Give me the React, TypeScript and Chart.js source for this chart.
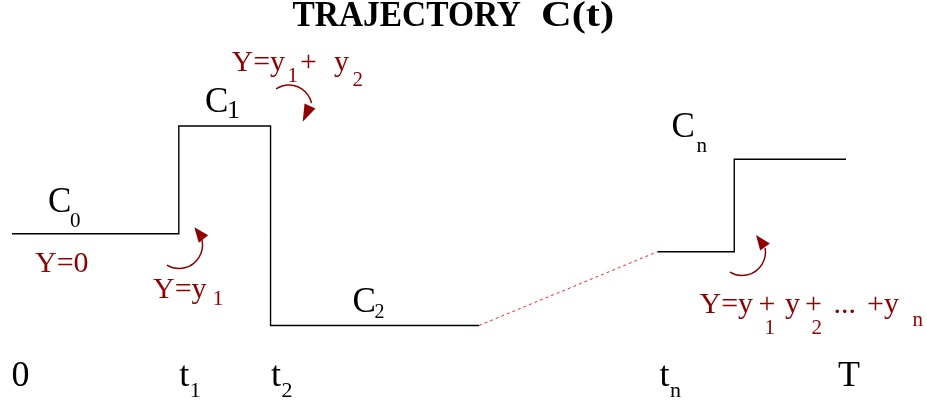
import React, { useEffect, useRef } from "react";
import { Chart, registerables } from "chart.js";
Chart.register(...registerables);

// ---- data ----
const earlyTimes = [0, 20, 31, 56]; // 0, t1, t2, end of C2 stretch
const earlyLevels = [46, 100, 0, 0]; // C0, C1, C2
const gapTimes = [56, 77.4];
const gapLevels = [0, 37];
const lateTimes = [77.4, 86.6, 100]; // tn, jump, T
const lateLevels = [37, 83.3, 83.3]; // level before Cn, Cn

const tickValues = [0, 20, 31, 77.4, 100];
const tickMain = ["0", "t", "t", "t", "T"];
const tickSub = ["", "1", "2", "n", ""];

const titleText = ["TRAJECTORY", "C(t)"];

const SERIF = '"Liberation Serif", "DejaVu Serif", serif';
const DARKRED = "#8f0000";

type Piece = { t: string; x: number; y: number; size: number; color: string; bold?: boolean };

const textPieces: Piece[] = [
  // level labels
  { t: "C", x: 48, y: 211.5, size: 35, color: "#000" },
  { t: "0", x: 70, y: 226.5, size: 21, color: "#000" },
  { t: "C", x: 205, y: 111.7, size: 35, color: "#000" },
  { t: "1", x: 227, y: 118, size: 26, color: "#000" },
  { t: "C", x: 352.5, y: 311.7, size: 35, color: "#000" },
  { t: "2", x: 374.5, y: 318, size: 20, color: "#000" },
  { t: "C", x: 671.5, y: 136.7, size: 35, color: "#000" },
  { t: "n", x: 696.5, y: 151.7, size: 21, color: "#000" },
  // red annotations
  { t: "Y=y", x: 231.5, y: 70.7, size: 30, color: DARKRED },
  { t: "1", x: 287.5, y: 81.7, size: 21, color: DARKRED },
  { t: "+", x: 300, y: 70.7, size: 30, color: DARKRED },
  { t: "y", x: 334, y: 70.7, size: 30, color: DARKRED },
  { t: "2", x: 352.5, y: 85.7, size: 21, color: DARKRED },
  { t: "Y=0", x: 35, y: 271.7, size: 30, color: DARKRED },
  { t: "Y=y", x: 153, y: 298, size: 30, color: DARKRED },
  { t: "1", x: 212.5, y: 305, size: 22, color: DARKRED },
  { t: "Y=y", x: 699.5, y: 313.3, size: 30, color: DARKRED },
  { t: "+", x: 758.5, y: 313.3, size: 30, color: DARKRED },
  { t: "1", x: 764.5, y: 334, size: 21, color: DARKRED },
  { t: "y", x: 785, y: 313.3, size: 30, color: DARKRED },
  { t: "+", x: 805, y: 313.3, size: 30, color: DARKRED },
  { t: "2", x: 811.5, y: 334, size: 21, color: DARKRED },
  { t: "...", x: 833.5, y: 313.3, size: 30, color: DARKRED },
  { t: "+y", x: 867, y: 313.3, size: 30, color: DARKRED },
  { t: "n", x: 912.5, y: 325.7, size: 21, color: DARKRED },
];

type Arrow = { cx: number; cy: number; r: number; a0: number; a1: number; ccw: boolean; tip: [number, number]; base: [number, number] };
const arrows: Arrow[] = [
  { cx: 289, cy: 108, r: 23, a0: -124, a1: -12, ccw: false, tip: [302.7, 121.7], base: [310, 106] },
  { cx: 179, cy: 245, r: 23.5, a0: 121, a1: -12, ccw: true, tip: [194.3, 227.3], base: [203.5, 239] },
  { cx: 742, cy: 252, r: 23.5, a0: 121, a1: -10, ccw: true, tip: [756, 235], base: [765, 247] },
];

function fitText(ctx: CanvasRenderingContext2D, t: string, x0: number, x1: number, y: number) {
  const w = ctx.measureText(t).width;
  const sx = (x1 - x0) / w;
  ctx.save();
  ctx.translate(x0, y);
  ctx.scale(sx, 1);
  ctx.fillText(t, 0, 0);
  ctx.restore();
}

const overlayPlugin = {
  id: "overlay",
  afterDraw(chart: any) {
    const ctx: CanvasRenderingContext2D = chart.ctx;
    const xs = chart.scales.x;
    ctx.save();
    ctx.textAlign = "left";
    ctx.textBaseline = "alphabetic";
    // title
    ctx.fillStyle = "#000";
    ctx.font = `bold 35px ${SERIF}`;
    fitText(ctx, titleText[0], 292.5, 521, 26);
    fitText(ctx, titleText[1], 541, 614, 26);
    // text pieces
    for (const p of textPieces) {
      ctx.fillStyle = p.color;
      ctx.font = `${p.bold ? "bold " : ""}${p.size}px ${SERIF}`;
      ctx.fillText(p.t, p.x, p.y);
    }
    // tick labels along time axis
    const offs = [-0.5, 0.5, 0.5, 2, -8];
    tickValues.forEach((v, i) => {
      const px = xs.getPixelForValue(v) + offs[i];
      ctx.fillStyle = "#000";
      ctx.font = `36px ${SERIF}`;
      ctx.fillText(tickMain[i], px, 385.5);
      if (tickSub[i]) {
        const w = ctx.measureText(tickMain[i]).width;
        ctx.font = `22px ${SERIF}`;
        ctx.fillText(tickSub[i], px + w + 0.5, 396.7);
      }
    });
    // arrows
    ctx.strokeStyle = DARKRED;
    ctx.fillStyle = DARKRED;
    ctx.lineWidth = 1.5;
    for (const a of arrows) {
      ctx.beginPath();
      ctx.arc(a.cx, a.cy, a.r, (a.a0 * Math.PI) / 180, (a.a1 * Math.PI) / 180, a.ccw);
      ctx.stroke();
      const dx = a.tip[0] - a.base[0];
      const dy = a.tip[1] - a.base[1];
      const len = Math.hypot(dx, dy);
      const nx = -dy / len, ny = dx / len;
      const hw = 6;
      ctx.beginPath();
      ctx.moveTo(a.tip[0], a.tip[1]);
      ctx.lineTo(a.base[0] + nx * hw, a.base[1] + ny * hw);
      ctx.lineTo(a.base[0] - nx * hw, a.base[1] - ny * hw);
      ctx.closePath();
      ctx.fill();
    }
    ctx.restore();
  },
};

export default function App() {
  const ref = useRef<HTMLCanvasElement | null>(null);
  useEffect(() => {
    if (!ref.current) return;
    const toPts = (xs: number[], ys: number[]) => xs.map((x, i) => ({ x, y: ys[i] }));
    const chart = new Chart(ref.current, {
      type: "line",
      data: {
        datasets: [
          {
            data: toPts(earlyTimes, earlyLevels),
            stepped: true,
            borderColor: "#000",
            borderWidth: 1.4,
            pointRadius: 0,
            fill: false,
          },
          {
            data: toPts(gapTimes, gapLevels),
            borderColor: "#ff2020",
            borderWidth: 1,
            borderDash: [3, 3],
            pointRadius: 0,
            fill: false,
          },
          {
            data: toPts(lateTimes, lateLevels),
            stepped: true,
            borderColor: "#000",
            borderWidth: 1.4,
            pointRadius: 0,
            fill: false,
          },
        ],
      },
      options: {
        responsive: false,
        animation: false,
        devicePixelRatio: 1,
        layout: { padding: 0 },
        plugins: { legend: { display: false }, tooltip: { enabled: false }, title: { display: false } },
        scales: {
          x: { type: "linear", min: -1.439, max: 109.71, display: false },
          y: { type: "linear", min: -40.85, max: 163.16, display: false },
        },
      },
      plugins: [overlayPlugin],
    });
    return () => chart.destroy();
  }, []);
  return (
    <div style={{ position: "fixed", left: 0, top: 0, width: 927, height: 407, background: "#fff" }}>
      <canvas ref={ref} width={927} height={407} style={{ display: "block", width: 927, height: 407 }} />
    </div>
  );
}
